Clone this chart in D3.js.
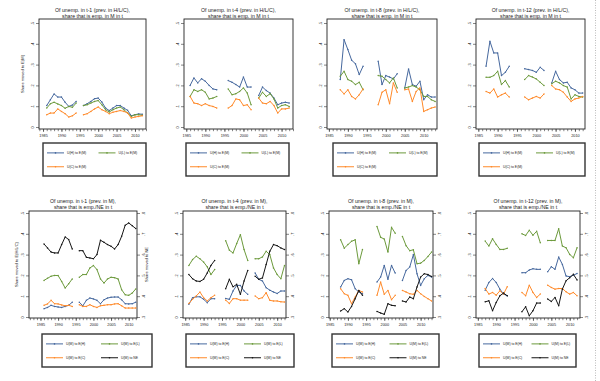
<!DOCTYPE html>
<html><head><meta charset="utf-8">
<script src="https://cdn.jsdelivr.net/npm/d3@7"></script>
<style>
body{margin:0;background:#fff}
svg{display:block}
text{font-family:"Liberation Sans",Arial,sans-serif;fill:#222}
</style>
</head><body><svg id="c" width="600" height="381"></svg>
<script>
// ---------- DATA ----------
const yearsT1 = [1986,1987,1988,1989,1990,1991,1992,1993,1994,null,1996,1997,1998,1999,2000,2001,2002,2003,2004,2005,2006,2007,2008,2009,2010,2011,2012];
const yearsT4 = [1986,1987,1988,1989,1990,1991,1992,1993,null,1996,1997,1998,1999,2000,2001,2002,null,2004,2005,2006,2007,2008,2009,2010,2011,2012];
const yearsT8 = [1988,1989,1990,1991,1992,1993,1994,null,1998,1999,2000,2001,2002,2003,null,2005,2006,2007,2008,2009,2010,2011,2012,2013];
const yearsT12 = [1987,1988,1989,1990,1991,1992,1993,null,1997,1998,1999,2000,2001,2002,null,2004,2005,2006,2007,2008,2009,2010,2011,2012];

// Top row: share of unemployed (prev. in H/L/C) employed in M
const uhT1 = [.103,.131,.159,.144,.144,.119,.099,.106,.123,null,.103,.112,.123,.136,.139,.120,.091,.079,.091,.103,.103,.091,.080,.054,.059,.063,.061];
const ulT1 = [.091,.112,.119,.111,.103,.090,.099,.095,.115,null,.103,.107,.115,.123,.127,.107,.083,.072,.083,.091,.096,.083,.067,.051,.059,.059,.056];
const ucT1 = [.059,.067,.067,.087,.075,.064,.048,.054,.067,null,.059,.064,.075,.087,.096,.083,.075,.064,.071,.075,.079,.075,.067,.043,.048,.051,.054];

const uhT4 = [.200,.236,.212,.232,.220,.200,.183,.179,null,.223,.215,.204,.192,.240,.192,.192,null,.151,.192,.175,.163,.139,.107,.115,.119,.115];
const ulT4 = [.147,.179,.171,.179,.167,.135,.139,.147,null,.183,.155,.160,.171,.188,.163,.107,null,.139,.167,.147,.160,.135,.091,.103,.107,.099];
const ucT4 = [.147,.115,.112,.103,.112,.103,.099,.091,null,.091,.103,.135,.131,.103,.107,.083,null,.139,.115,.112,.123,.103,.067,.087,.087,.091];

const uhT8 = [.228,.420,.372,.321,.304,.252,.292,null,.316,.204,.247,.240,.231,.256,null,.188,.279,.204,.196,.220,.131,.155,.144,.144];
const ulT8 = [.244,.268,.228,.220,.204,.215,.179,null,.247,.244,.228,.212,.236,.188,null,.188,.192,.199,.192,.179,.147,.147,.131,.123];
const ucT8 = [.179,.159,.179,.147,.135,.155,.183,null,.107,.167,.179,.112,.212,.167,null,.179,.183,.123,.171,.188,.075,.083,.091,.096];

const uhT12 = [.292,.412,.356,.356,.247,.263,.292,null,.280,.276,.272,.263,.287,.272,null,.212,.268,.228,.212,.215,.188,.179,.163,.163];
const ulT12 = [.239,.239,.247,.268,.204,.223,.192,null,.228,.247,.240,.231,.215,.199,null,.208,.220,.212,.199,.192,.135,.155,.147,.144];
const ucT12 = [.171,.163,.183,.144,.155,.163,.144,null,.144,.131,.139,.147,.139,.159,null,.199,.183,.179,.167,.144,.123,.135,.139,.147];

// Bottom row: share of unemployed (prev. in M) in E(H), E(L), E(C) (left axis) and NE (right axis)
const ehT1 = [.040,.046,.056,.051,.048,.046,.051,.056,.071,null,.071,.054,.080,.091,.087,.080,.064,.083,.091,.095,.096,.096,.083,.064,.063,.064,.071];
const elT1 = [.176,.186,.196,.200,.199,.171,.139,.160,.183,null,.191,.204,.204,.236,.247,.228,.183,.163,.183,.191,.189,.183,.131,.107,.104,.115,.135];
const ecT1 = [.056,.063,.080,.064,.063,.058,.054,.056,.051,null,.059,.051,.051,.059,.051,.046,.054,.056,.059,.059,.063,.064,.054,.043,.043,.043,.043];
const neT1 = [.651,.632,.612,.608,.608,.648,.685,.672,.627,null,.619,.619,.587,.584,.580,.600,.669,.659,.648,.640,.627,.648,.688,.741,.752,.739,.725];

const ehT4 = [.061,.093,.097,.097,.085,.069,.088,.088,null,.089,.085,.125,.152,.152,.125,.109,null,.212,.181,.173,.141,.129,.120,.113,.125,.125];
const elT4 = [.248,.276,.292,.280,.264,.241,.204,.228,null,.367,.321,.308,.353,.396,.324,.272,null,.280,.280,.289,.316,.300,.236,.204,.184,.248];
const ecT4 = [.065,.085,.101,.120,.093,.077,.093,.104,null,.081,.065,.088,.088,.081,.081,.081,null,.101,.088,.093,.117,.080,.077,.077,.073,.072];
const neT4 = [.504,.484,.473,.471,.481,.512,.548,.572,null,.436,.481,.445,.457,.409,.473,.524,null,.496,.481,.488,.552,.616,.648,.643,.632,.624];

const ehT8 = [.144,.176,.184,.179,.136,.120,.112,null,.168,.192,.248,.181,.248,.211,null,.176,.224,.240,.300,.208,.152,.184,.200,.192];
const elT8 = [.371,.331,.348,.364,.371,.256,.324,null,.435,.383,.375,.312,.431,.403,null,.387,.343,.319,.323,.256,.259,.272,.291,.312];
const ecT8 = [.136,.112,.104,.064,.096,.128,.120,null,.104,.168,.109,.128,.083,.104,null,.128,.120,.112,.109,.128,.112,.099,.088,.077];
const neT8 = [.329,.340,.324,.351,.388,.428,.404,null,.327,.319,.313,.364,.356,.354,null,.377,.372,.396,.388,.444,.492,.508,.504,.495];

const ehT12 = [.129,.166,.185,.166,.134,.110,.102,null,.213,.213,.226,.232,.229,.229,null,.217,.242,.229,.288,.253,.197,.194,.201,.209];
const elT12 = [.365,.341,.376,.349,.325,.325,.330,null,.400,.392,.417,.393,.412,.357,null,.368,.368,.368,.424,.341,.333,.301,.285,.333];
const ecT12 = [.137,.110,.118,.105,.126,.110,.146,null,.118,.102,.153,.118,.094,.110,null,.153,.142,.134,.137,.137,.121,.110,.118,.102];
const neT12 = [.373,.378,.330,.370,.402,.415,.402,null,.325,.349,.306,.330,.367,.367,null,.386,.375,.394,.354,.434,.474,.489,.505,.478];

const topTitles = ["Of unemp. in t-1 (prev. in H/L/C),","Of unemp. in t-4 (prev. in H/L/C),","Of unemp. in t-8 (prev. in H/L/C),","Of unemp. in t-12 (prev. in H/L/C),"];
const topSubtitle = "share that is emp. in M in t";
const botTitles = ["Of unemp. in t-1 (prev. in M),","Of unemp. in t-4 (prev. in M),","Of unemp. in t-8 (prev. in M),","Of unemp. in t-12 (prev. in M),"];
const botSubtitle = "share that is emp./NE in t";
const topLegend = ["U(H) to E(M)","U(L) to E(M)","U(C) to E(M)"];
const botLegend = ["U(M) to E(H)","U(M) to E(L)","U(M) to E(C)","U(M) to NE"];
const xTickYears = [1985,1990,1995,2000,2005,2010];
const leftTicks = [0,.1,.2,.3,.4,.5];
const rightTicks = [.3,.4,.5,.6,.7,.8];

// ---------- STYLE / LAYOUT ----------
const COL = {h:"#46689e", l:"#6c9a3c", c:"#ff8a2a", ne:"#151515"};
const svg = d3.select("#c");
const fmt = d => d === 0 ? "0" : d3.format(".1f")(d).replace(/^0\./, ".");

const topPanels = [
  {x0:39,x1:146,dom:[1983.9,2013.0],years:yearsT1,series:[uhT1,ulT1,ucT1],title:topTitles[0],leg:[43,146],ylab:"Share moved to E(M)"},
  {x0:184,x1:293,dom:[1984.4,2013.0],years:yearsT4,series:[uhT4,ulT4,ucT4],title:topTitles[1],leg:[186,289]},
  {x0:327,x1:437,dom:[1984.5,2013.5],years:yearsT8,series:[uhT8,ulT8,ucT8],title:topTitles[2],leg:[333,437]},
  {x0:476,x1:585,dom:[1984.4,2012.6],years:yearsT12,series:[uhT12,ulT12,ucT12],title:topTitles[3],leg:[479,585]}
];
const botPanels = [
  {x0:29,x1:137,dom:[1981.75,2012.35],years:yearsT1,series:[ehT1,elT1,ecT1,neT1],title:botTitles[0],leg:[42,152],ylab:"Share moved to E(H/L/C)",rlab:"Share moved to NE"},
  {x0:183,x1:286,dom:[1984.4,2012.4],years:yearsT4,series:[ehT4,elT4,ecT4,neT4],title:botTitles[1],leg:[186,294]},
  {x0:329,x1:433,dom:[1984.8,2013.4],years:yearsT8,series:[ehT8,elT8,ecT8,neT8],title:botTitles[2],leg:[332,439]},
  {x0:476,x1:580,dom:[1984.5,2012.8],years:yearsT12,series:[ehT12,elT12,ecT12,neT12],title:botTitles[3],leg:[479,576]}
];
const TOP = {by0:19,by1:129,yb:127,yt:23,t1:12,t2:17.5,ly0:143,ly1:176};
const BOT = {by0:211,by1:318,yb:317,yt:213,t1:203,t2:208.5,ly0:334,ly1:367};

function drawPanel(p, R, labels, subtitle, hasRight) {
  const g = svg.append("g");
  const x = d3.scaleLinear().domain(p.dom).range([p.x0, p.x1]);
  const y = d3.scaleLinear().domain([0, .5]).range([R.yb, R.yt]);
  const yr = d3.scaleLinear().domain([.3, .8]).range([R.yb, R.yt]);
  const cx = (p.x0 + p.x1) / 2;

  // titles
  g.append("text").attr("x", cx).attr("y", R.t1).attr("text-anchor","middle").attr("font-size",5.2).text(p.title);
  g.append("text").attr("x", cx).attr("y", R.t2).attr("text-anchor","middle").attr("font-size",5.2).text(subtitle);

  // frame
  g.append("rect").attr("x",p.x0).attr("y",R.by0).attr("width",p.x1-p.x0).attr("height",R.by1-R.by0)
    .attr("fill","none").attr("stroke","#222").attr("stroke-width",0.9);

  // x axis: yearly minor ticks + major labelled ticks
  const minor = d3.range(Math.ceil(p.dom[0]), Math.floor(p.dom[1]) + 1);
  const xm = g.append("g").attr("transform",`translate(0,${R.by1})`)
    .call(d3.axisBottom(x).tickValues(minor).tickFormat("").tickSize(2.2).tickSizeOuter(0));
  xm.select(".domain").remove();
  xm.selectAll("line").attr("stroke","#333").attr("stroke-width",0.6);
  const xa = g.append("g").attr("transform",`translate(0,${R.by1})`)
    .call(d3.axisBottom(x).tickValues(xTickYears.filter(v => v >= p.dom[0] && v <= p.dom[1])).tickFormat(d3.format("d")).tickSize(3).tickPadding(2).tickSizeOuter(0));
  xa.select(".domain").remove();
  xa.selectAll("line").attr("stroke","#333").attr("stroke-width",0.6);
  xa.selectAll("text").attr("font-size",3.8).attr("fill","#222");

  // left y axis (rotated labels)
  const ya = g.append("g").attr("transform",`translate(${p.x0},0)`)
    .call(d3.axisLeft(y).tickValues(leftTicks).tickFormat(fmt).tickSize(3).tickSizeOuter(0));
  ya.select(".domain").remove();
  ya.selectAll("line").attr("stroke","#333").attr("stroke-width",0.6);
  ya.selectAll("text").attr("font-size",3.8).attr("fill","#222")
    .attr("transform","rotate(-90)").attr("x",0).attr("y",-5).attr("dy",0).attr("text-anchor","middle");
  if (p.ylab) {
    const lx = hasRight ? p.x0 - 11 : p.x0 - 15;
    g.append("text").attr("transform",`translate(${lx},${(R.by0+R.by1)/2}) rotate(-90)`)
      .attr("text-anchor","middle").attr("font-size",4).text(p.ylab);
  }

  if (hasRight) {
    const ra = g.append("g").attr("transform",`translate(${p.x1},0)`)
      .call(d3.axisRight(yr).tickValues(rightTicks).tickFormat(fmt).tickSize(3).tickSizeOuter(0));
    ra.select(".domain").remove();
    ra.selectAll("line").attr("stroke","#333").attr("stroke-width",0.6);
    ra.selectAll("text").attr("font-size",3.8).attr("fill","#222")
      .attr("transform","rotate(-90)").attr("x",0).attr("y",7.5).attr("dy",0).attr("text-anchor","middle");
    if (p.rlab) {
      g.append("text").attr("transform",`translate(${p.x1+11},${(R.by0+R.by1)/2}) rotate(-90)`)
        .attr("text-anchor","middle").attr("font-size",4).text(p.rlab);
    }
  }

  // series
  const cols = hasRight ? [COL.h, COL.l, COL.c, COL.ne] : [COL.h, COL.l, COL.c];
  p.series.forEach((vals, si) => {
    const sc = (hasRight && si === 3) ? yr : y;
    const pts = p.years.map((yy, i) => ({yr: yy, v: vals[i]}));
    const line = d3.line().defined(d => d.yr != null && d.v != null).x(d => x(d.yr)).y(d => sc(d.v));
    g.append("path").datum(pts).attr("d", line).attr("fill","none")
      .attr("stroke", cols[si]).attr("stroke-width", 1).attr("stroke-linejoin","round");
    g.selectAll(null).data(pts.filter(d => d.yr != null && d.v != null)).join("circle")
      .attr("cx", d => x(d.yr)).attr("cy", d => sc(d.v)).attr("r", 0.75).attr("fill", cols[si]);
  });

  // legend
  const lx0 = p.leg[0], lx1 = p.leg[1];
  g.append("rect").attr("x", lx0).attr("y", R.ly0).attr("width", lx1-lx0).attr("height", R.ly1-R.ly0)
    .attr("fill","#fff").attr("stroke","#333").attr("stroke-width",1.4);
  const w = lx1 - lx0;
  const rows = [R.ly0 + (R.ly1-R.ly0)*0.3, R.ly0 + (R.ly1-R.ly0)*0.72];
  labels.forEach((lab, i) => {
    const col = i % 2, row = Math.floor(i / 2);
    const sx = lx0 + 4 + col * w * 0.5;
    const yy = rows[row];
    g.append("line").attr("x1", sx).attr("x2", sx + 17).attr("y1", yy).attr("y2", yy)
      .attr("stroke", cols[i]).attr("stroke-width", 1);
    g.append("circle").attr("cx", sx + 8.5).attr("cy", yy).attr("r", 0.8).attr("fill", cols[i]);
    g.append("text").attr("x", sx + 20).attr("y", yy + 1.2).attr("font-size", 3.4).text(lab);
  });
}

topPanels.forEach(p => drawPanel(p, TOP, topLegend, topSubtitle, false));
botPanels.forEach(p => drawPanel(p, BOT, botLegend, botSubtitle, true));

// dotted separator on the right edge
svg.append("line").attr("x1",595.5).attr("x2",595.5).attr("y1",0).attr("y2",381)
  .attr("stroke","#aaa").attr("stroke-width",0.8).attr("stroke-dasharray","1,1.5");
</script>
</body></html>
